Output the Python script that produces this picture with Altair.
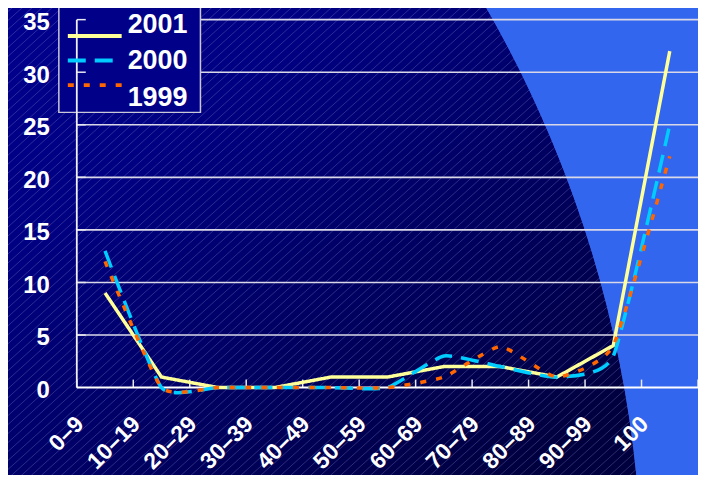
import altair as alt
import pandas as pd

# ---------------- data ----------------
categories = ["0–9", "10–19", "20–29", "30–39", "40–49", "50–59",
              "60–69", "70–79", "80–89", "90–99", "100"]
years = ["2001", "2000", "1999"]
v2001 = [9, 1, 0, 0, 1, 1, 2, 2, 1, 4, 32]
v2000 = [13, 0, 0, 0, 0, 0, 3, 2, 1, 3, 25]
v1999 = [12, 0, 0, 0, 0, 0, 1, 3.9, 1, 4, 22]
y_ticks = [0, 5, 10, 15, 20, 25, 30, 35]

colors = ["#ffff99", "#00ccff", "#ff6600"]
dashes = [[1, 0], [18, 9], [6, 10]]

rows = []
for yr, vals in zip(years, [v2001, v2000, v1999]):
    for c, v in zip(categories, vals):
        rows.append({"range": c, "year": yr, "value": v})
df = pd.DataFrame(rows)

# ---------------- layout ----------------
W, H = 623, 369          # plot area
OX, OY = 77, 19          # page position of plot origin
BLUE = "#3366ee"
FONT = "Liberation Sans"

# background disc (navy) geometry in page coords
CX, CY, R = -532, 593, 1176
one = alt.Data(values=[{"k": 0}])

grad = alt.Gradient(
    gradient="linear",
    x1=(0 - (CX - R)) / (2 * R),
    y1=(0 - (CY - R)) / (2 * R),
    x2=(420 - (CX - R)) / (2 * R),
    y2=(560 - (CY - R)) / (2 * R),
    stops=[
        alt.GradientStop(color="#00008e", offset=0),
        alt.GradientStop(color="#000082", offset=0.3),
        alt.GradientStop(color="#00006e", offset=0.5),
        alt.GradientStop(color="#000052", offset=0.8),
        alt.GradientStop(color="#00003e", offset=1),
    ],
)

disc = alt.Chart(one).mark_point(
    shape="circle", filled=True, fill=grad, size=(2 * R) ** 2,
    opacity=1, strokeWidth=0
).encode(x=alt.value(CX - OX), y=alt.value(CY - OY))

# hatch decoration
hatch_c = pd.DataFrame({"c": list(range(0, 1260, 10))})
hatch = alt.Chart(hatch_c).transform_calculate(
    hx1=f"datum.c - {OX}", hx2=f"datum.c - 533 - {OX}"
).mark_rule(stroke="#8080c8", strokeWidth=1, opacity=0.35).encode(
    x=alt.X("hx1:Q", scale=None), x2="hx2:Q",
    y=alt.value(-OY), y2=alt.value(480 - OY)
)

RING_W = 400
ring = alt.Chart(one).mark_point(
    shape="circle", filled=False, stroke=BLUE, strokeWidth=RING_W,
    size=(2 * (R + RING_W / 2)) ** 2, opacity=1
).encode(x=alt.value(CX - OX), y=alt.value(CY - OY))


def yscale():
    return alt.Scale(domain=[0, 35], nice=False, range=[H, 0])


def xscale():
    return alt.Scale(type="band", domain=categories, paddingInner=0, paddingOuter=0,
                     range=[0, W])


grid_df = pd.DataFrame({"v": y_ticks[1:]})
grid = alt.Chart(grid_df).mark_rule(stroke="#d8d8e8", strokeWidth=1.6).encode(
    y=alt.Y("v:Q", scale=yscale(), axis=None), x=alt.value(0), x2=alt.value(W)
)

# legend (drawn as marks)
LT = 3 - OY  # legend top in view coords
leg_box = alt.Chart(one).mark_rect(fill="#000088", stroke="#c8c8d8", strokeWidth=1.5).encode(
    x=alt.value(-18), x2=alt.value(124), y=alt.value(LT), y2=alt.value(LT + 109)
)
leg_df = pd.DataFrame({"year": years})
leg_y = alt.Y("year:N", scale=alt.Scale(domain=years, range=[LT + 20, LT + 94], padding=0),
              axis=None)
leg_sym = alt.Chart(leg_df).mark_rule(strokeWidth=4).encode(
    x=alt.value(-9), x2=alt.value(45), y=leg_y,
    color=alt.Color("year:N", scale=alt.Scale(domain=years, range=colors), legend=None),
    strokeDash=alt.StrokeDash("year:N", scale=alt.Scale(domain=years, range=dashes),
                              legend=None),
)
leg_txt = alt.Chart(leg_df).mark_text(
    align="left", baseline="middle", font=FONT, fontWeight="bold", fontSize=27,
    color="white", dy=1
).encode(x=alt.value(51), y=leg_y, text="year:N")

yticks = alt.Chart(grid_df).mark_rule(stroke="#e8e8f0", strokeWidth=1.5).encode(
    y=alt.Y("v:Q", scale=yscale(), axis=None), x=alt.value(0), x2=alt.value(9)
)

xt_df = pd.DataFrame({"range": categories})
xticks = alt.Chart(xt_df).mark_rule(stroke="#e8e8f0", strokeWidth=1.5).encode(
    x=alt.X("range:N", scale=xscale(), sort=categories, bandPosition=0, axis=None),
    y=alt.value(H - 8), y2=alt.value(H)
)
xt_last = alt.Chart(pd.DataFrame({"range": categories[-1:]})).mark_rule(
    stroke="#e8e8f0", strokeWidth=1.5).encode(
    x=alt.X("range:N", scale=xscale(), sort=categories, bandPosition=1, axis=None),
    y=alt.value(H - 8), y2=alt.value(H)
)

yaxis_line = alt.Chart(one).mark_rule(stroke="#f0f0f8", strokeWidth=1.8).encode(
    x=alt.value(0), y=alt.value(0), y2=alt.value(H)
)
xaxis_line = alt.Chart(one).mark_rule(stroke="white", strokeWidth=2).encode(
    x=alt.value(0), x2=alt.value(W), y=alt.value(H)
)

# axis labels as text marks
ylab = alt.Chart(pd.DataFrame({"v": y_ticks})).mark_text(
    align="right", baseline="middle", font=FONT, fontWeight="bold", fontSize=24,
    color="white", dy=3.5
).encode(y=alt.Y("v:Q", scale=yscale(), axis=None), x=alt.value(-27), text="v:Q")

xlab = alt.Chart(xt_df).mark_text(
    align="right", baseline="middle", angle=315, font=FONT, fontWeight="bold",
    fontSize=23, color="white"
).encode(
    x=alt.X("range:N", scale=xscale(), sort=categories, bandPosition=0.06, axis=None),
    y=alt.value(H + 33), text="range:N"
)

enc = dict(
    x=alt.X("range:N", scale=xscale(), sort=categories, bandPosition=0.5, axis=None),
    y=alt.Y("value:Q", scale=yscale(), axis=None),
    color=alt.Color("year:N", scale=alt.Scale(domain=years, range=colors), legend=None),
    strokeDash=alt.StrokeDash("year:N", scale=alt.Scale(domain=years, range=dashes),
                              legend=None),
)

line_2001 = alt.Chart(df).transform_filter(alt.datum.year == "2001").mark_line(
    strokeWidth=3.5).encode(**enc)
line_smooth = alt.Chart(df).transform_filter(alt.datum.year != "2001").mark_line(
    interpolate="cardinal", tension=0.5, strokeWidth=3.5).encode(**enc)

chart = alt.layer(
    disc, hatch, ring, grid, leg_box, yticks, xticks, xt_last, yaxis_line, xaxis_line,
    ylab, xlab, leg_sym, leg_txt, line_2001, line_smooth
).resolve_scale(x="independent", y="independent").properties(
    width=W, height=H,
    autosize=alt.AutoSizeParams(type="none"),
    padding={"left": OX - 8, "top": OY - 8, "right": 0, "bottom": 87},
    background=BLUE,
).configure_view(stroke=None)

chart.save("out.html", embed_options={"renderer": "svg", "actions": False})
